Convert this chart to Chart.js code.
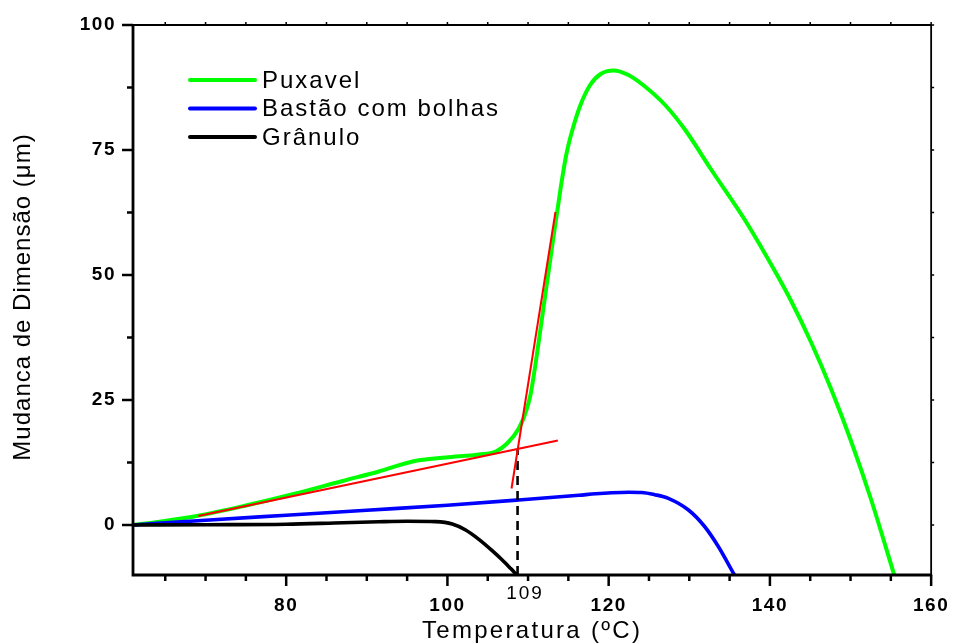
<!DOCTYPE html>
<html>
<head>
<meta charset="utf-8">
<script src="https://cdn.jsdelivr.net/npm/chart.js@4.4.0/dist/chart.umd.min.js"></script>
<style>
  html, body { margin: 0; padding: 0; background: #fff; }
  canvas { display: block; }
</style>
</head>
<body>
<canvas id="chart" width="955" height="643"></canvas>
<script>
// Dilatometry curves: dimension change (µm) against temperature (ºC)
const puxavelTemp = [61, 64, 68.9, 75, 81.2, 87, 91.5, 95.7, 99.8, 103.9, 106, 107.4, 108.85, 109.7, 110.3, 111, 111.7, 113.1, 113.6, 114.2, 114.8, 115.5, 116.5, 117.7, 119, 120.6, 122.45, 124.5, 127, 129.5, 132.75, 136.9, 141, 142.65, 145.12, 147.59, 150.06, 152.54, 155.42];
const puxavelDim  = [0, 0.6, 1.8, 3.9, 6.3, 8.8, 10.7, 12.7, 13.5, 14.1, 14.7, 16.3, 19.3, 22.5, 26, 33, 41, 57, 62.5, 69, 74.5, 79, 84, 88, 90.2, 90.9, 90, 87.7, 84, 79, 71, 61, 49.7, 44.75, 36.5, 27.2, 16.8, 5.15, -10];

const bastaoTemp = [61, 70, 80, 90, 100, 108.85, 116.3, 118.4, 120.4, 122.5, 124.1, 125.7, 127.4, 129.9, 131.9, 133.6, 135.6];
const bastaoDim  = [0, 0.95, 1.95, 2.95, 3.95, 5.0, 5.95, 6.25, 6.45, 6.55, 6.5, 6.07, 5.33, 3, -0.3, -4.3, -10];

const granuloTemp = [61, 70, 80, 86, 91.5, 95, 98.55, 100.6, 102.26, 103.9, 105.55, 106.8, 107.82, 108.6];
const granuloDim  = [0, 0.05, 0.15, 0.4, 0.65, 0.75, 0.67, 0.2, -1, -2.87, -5.13, -7, -8.67, -10];

// Tangent construction for the softening onset
const tangentLowTemp  = [69.1, 113.7];
const tangentLowDim   = [1.8, 16.9];
const tangentHighTemp = [107.95, 113.4];
const tangentHighDim  = [7.3, 62.6];
const onsetTemp = [108.7, 108.7];
const onsetDim  = [-10, 15.2];
const onsetLabel = '109';

const seriesNames  = ['Puxavel', 'Bastão com bolhas', 'Grânulo'];
const seriesColors = ['#00ff00', '#0000ff', '#000000'];

const xMajorTicks = [80, 100, 120, 140, 160];
const xMinorTicks = [65, 70, 75, 85, 90, 95, 105, 110, 115, 125, 130, 135, 145, 150, 155];
const yMajorTicks = [0, 25, 50, 75, 100];
const yMinorTicks = [12.5, 37.5, 62.5, 87.5];

const xTitle = 'Temperatura (ºC)';
const yTitle = 'Mudanca de Dimensão (μm)';

const FONT = '"Liberation Sans", Arial, Helvetica, sans-serif';

const toPoints = (xs, ys) => xs.map((x, i) => ({ x: x, y: ys[i] }));

const axesPlugin = {
  id: 'axesFrame',
  beforeDraw(chart) {
    chart.ctx.letterSpacing = '1.5px';
  },
  afterDraw(chart) {
    const ctx = chart.ctx;
    const a = chart.chartArea;
    const xs = chart.scales.x, ys = chart.scales.y;
    ctx.save();
    ctx.strokeStyle = '#000';
    ctx.lineCap = 'butt';

    // frame
    ctx.lineWidth = 1.8;
    ctx.beginPath();
    ctx.moveTo(a.left, a.top); ctx.lineTo(a.right, a.top); ctx.lineTo(a.right, a.bottom);
    ctx.stroke();
    ctx.lineWidth = 2.8;
    ctx.beginPath();
    ctx.moveTo(a.left, a.top - 1); ctx.lineTo(a.left, a.bottom); ctx.lineTo(a.right + 1, a.bottom);
    ctx.stroke();

    // bottom ticks
    ctx.lineWidth = 2.5;
    xMajorTicks.forEach(v => {
      const px = xs.getPixelForValue(v);
      ctx.beginPath(); ctx.moveTo(px, a.bottom); ctx.lineTo(px, a.bottom + 11); ctx.stroke();
    });
    xMinorTicks.forEach(v => {
      const px = xs.getPixelForValue(v);
      ctx.beginPath(); ctx.moveTo(px, a.bottom); ctx.lineTo(px, a.bottom + 6); ctx.stroke();
    });
    // left ticks
    yMajorTicks.forEach(v => {
      const py = ys.getPixelForValue(v);
      ctx.beginPath(); ctx.moveTo(a.left, py); ctx.lineTo(a.left - 11, py); ctx.stroke();
    });
    yMinorTicks.forEach(v => {
      const py = ys.getPixelForValue(v);
      ctx.beginPath(); ctx.moveTo(a.left, py); ctx.lineTo(a.left - 6, py); ctx.stroke();
    });
    // top and right small ticks
    ctx.lineWidth = 1.5;
    xMajorTicks.concat(xMinorTicks).forEach(v => {
      const px = xs.getPixelForValue(v);
      ctx.beginPath(); ctx.moveTo(px, a.top); ctx.lineTo(px, a.top - 3); ctx.stroke();
    });
    yMajorTicks.concat(yMinorTicks).forEach(v => {
      const py = ys.getPixelForValue(v);
      ctx.beginPath(); ctx.moveTo(a.right, py); ctx.lineTo(a.right + 3, py); ctx.stroke();
    });

    // onset temperature label
    ctx.fillStyle = '#000';
    ctx.letterSpacing = '2px';
    ctx.font = '19px ' + FONT;
    ctx.textAlign = 'center';
    ctx.textBaseline = 'top';
    ctx.fillText(onsetLabel, xs.getPixelForValue(109) + 5, a.bottom + 9);

    // axis titles
    ctx.font = '24px ' + FONT;
    ctx.textBaseline = 'middle';
    ctx.letterSpacing = '2.3px';
    ctx.fillText(xTitle, (a.left + a.right) / 2, 631);
    ctx.save();
    ctx.translate(23, (a.top + a.bottom) / 2 - 3);
    ctx.rotate(-Math.PI / 2);
    ctx.letterSpacing = '1px';
    ctx.fillText(yTitle, 0, 0);
    ctx.restore();

    // legend
    const legendY = [80, 108.5, 137];
    ctx.textAlign = 'left';
    ctx.letterSpacing = '2px';
    seriesNames.forEach((name, i) => {
      ctx.strokeStyle = seriesColors[i];
      ctx.lineWidth = 4;
      ctx.lineCap = 'round';
      ctx.beginPath(); ctx.moveTo(190, legendY[i]); ctx.lineTo(255, legendY[i]); ctx.stroke();
      ctx.fillStyle = '#000';
      ctx.fillText(name, 262, legendY[i] + 1);
    });
    ctx.restore();
    ctx.letterSpacing = '0px';
  }
};

const curve = (label, xs, ys, color, width, order) => ({
  label: label,
  data: toPoints(xs, ys),
  borderColor: color,
  borderWidth: width,
  cubicInterpolationMode: 'monotone',
  pointRadius: 0,
  fill: false,
  order: order
});

new Chart(document.getElementById('chart'), {
  type: 'line',
  data: {
    datasets: [
      curve(seriesNames[0], puxavelTemp, puxavelDim, seriesColors[0], 4, 3),
      curve(seriesNames[1], bastaoTemp, bastaoDim, seriesColors[1], 3.6, 2),
      curve(seriesNames[2], granuloTemp, granuloDim, seriesColors[2], 3.6, 1),
      { label: 'tangente 1', data: toPoints(tangentLowTemp, tangentLowDim), borderColor: '#ff0000', borderWidth: 2, pointRadius: 0, tension: 0, order: 0 },
      { label: 'tangente 2', data: toPoints(tangentHighTemp, tangentHighDim), borderColor: '#ff0000', borderWidth: 2, pointRadius: 0, tension: 0, order: 0 },
      { label: 'onset', data: toPoints(onsetTemp, onsetDim), borderColor: '#000', borderWidth: 2.6, borderDash: [9, 6], pointRadius: 0, tension: 0, order: 0 }
    ]
  },
  options: {
    responsive: false,
    animation: false,
    layout: { padding: { top: 25, right: 20, left: 0, bottom: 0 } },
    plugins: { legend: { display: false }, tooltip: { enabled: false } },
    scales: {
      x: {
        type: 'linear',
        min: 61,
        max: 160,
        afterBuildTicks: s => { s.ticks = xMajorTicks.map(v => ({ value: v })); },
        afterFit: s => { s.height = 68; },
        grid: { display: true, drawOnChartArea: false, drawTicks: true, tickLength: 11, color: 'rgba(0,0,0,0)' },
        border: { display: false },
        ticks: { color: '#000', font: { family: FONT, size: 19, weight: 'bold' }, padding: 8, maxRotation: 0, autoSkip: false }
      },
      y: {
        type: 'linear',
        min: -10,
        max: 100,
        afterBuildTicks: s => { s.ticks = yMajorTicks.map(v => ({ value: v })); },
        afterFit: s => { s.width = 133; },
        grid: { display: true, drawOnChartArea: false, drawTicks: true, tickLength: 11, color: 'rgba(0,0,0,0)' },
        border: { display: false },
        ticks: { color: '#000', font: { family: FONT, size: 19, weight: 'bold' }, padding: 6 }
      }
    }
  },
  plugins: [axesPlugin]
});
</script>
</body>
</html>
